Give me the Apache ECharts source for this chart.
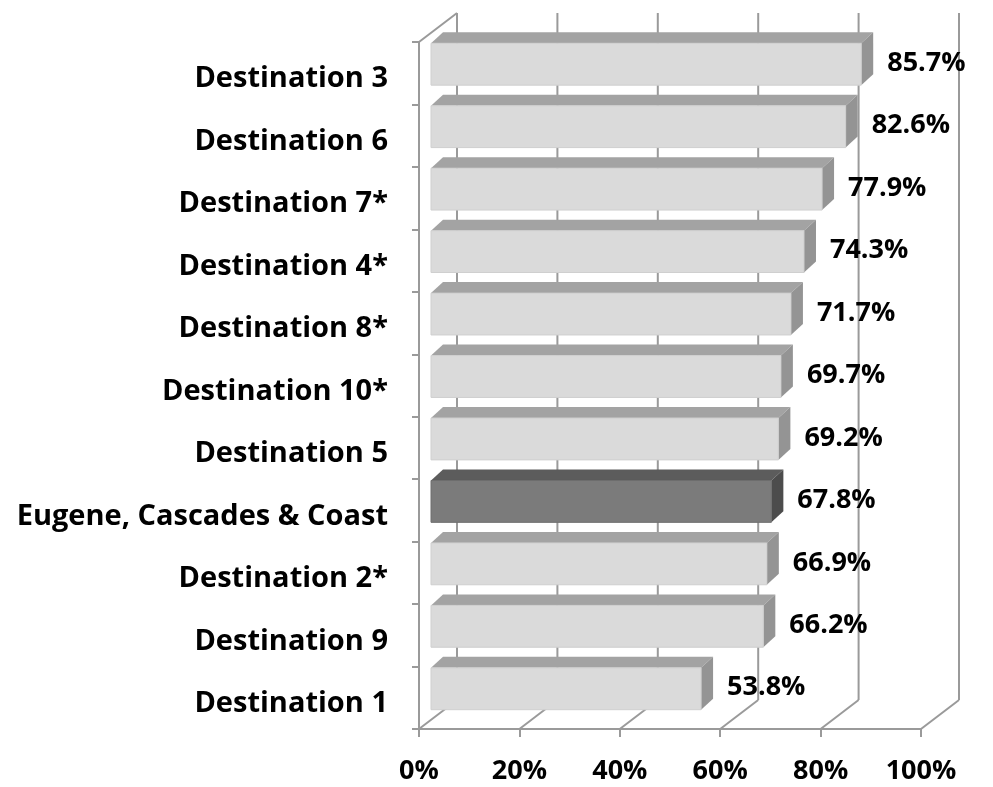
<!DOCTYPE html>
<html>
<head>
<meta charset="utf-8">
<script src="https://cdn.jsdelivr.net/npm/echarts@6/dist/echarts.min.js"></script>
<style>
  html, body { margin: 0; padding: 0; background: #fff; }
  #chart { width: 993px; height: 787px; }
</style>
</head>
<body>
<div id="chart"></div>
<script>
// categories top to bottom, values in percent
var categories = ['Destination 3', 'Destination 6', 'Destination 7*', 'Destination 4*', 'Destination 8*',
  'Destination 10*', 'Destination 5', 'Eugene, Cascades & Coast', 'Destination 2*', 'Destination 9', 'Destination 1'];
var values = [85.7, 82.6, 77.9, 74.3, 71.7, 69.7, 69.2, 67.8, 66.9, 66.2, 53.8];
var highlight = 'Eugene, Cascades & Coast';
var gridValues = [0, 20, 40, 60, 80, 100];

var FONT = '"Open Sans", sans-serif';
var LINE = '#9a9a9a';
// depth of the 3d box (wall) and of a bar, in pixels
var WALL = [38, -29];
var BAR_OFF = [12, -9];
var BAR_DEPTH = [12, -11];

var chart = echarts.init(document.getElementById('chart'));

function wallItem(params, api) {
    var cs = params.coordSys;
    var v = api.value(0);
    var x = api.coord([v, 0])[0];
    var top = cs.y, bottom = cs.y + cs.height;
    var style = { stroke: LINE, lineWidth: 2, fill: null };
    var kids = [
        { type: 'line', shape: { x1: x + WALL[0], y1: top + WALL[1], x2: x + WALL[0], y2: bottom + WALL[1] }, style: style },
        { type: 'line', shape: { x1: x, y1: bottom, x2: x + WALL[0], y2: bottom + WALL[1] }, style: style }
    ];
    if (v === 0) {
        kids.push({ type: 'line', shape: { x1: x, y1: top, x2: x + WALL[0], y2: top + WALL[1] }, style: style });
    }
    return { type: 'group', children: kids };
}

function barItem(params, api) {
    var idx = api.value(0);
    var val = api.value(1);
    var p0 = api.coord([0, idx]);
    var p1 = api.coord([val, idx]);
    var band = api.size([0, 1])[1];
    var h = band * 0.67;
    var x0 = p0[0] + BAR_OFF[0], x1 = p1[0] + BAR_OFF[0];
    var yc = p0[1] + BAR_OFF[1];
    var top = yc - h / 2, bottom = yc + h / 2;
    var dx = BAR_DEPTH[0], dy = BAR_DEPTH[1];
    var hi = categories[idx] === highlight;
    var cFront = hi ? '#7b7b7b' : '#dadada';
    var cTop = hi ? '#5c5c5c' : '#a3a3a3';
    var cSide = hi ? '#4c4c4c' : '#949494';
    return {
        type: 'group',
        children: [
            { type: 'polygon', shape: { points: [[x0, top], [x1, top], [x1 + dx, top + dy], [x0 + dx, top + dy]] },
              style: { fill: cTop } },
            { type: 'polygon', shape: { points: [[x1, top], [x1 + dx, top + dy], [x1 + dx, bottom + dy], [x1, bottom]] },
              style: { fill: cSide } },
            { type: 'rect', shape: { x: x0, y: top, width: x1 - x0, height: h },
              style: { fill: cFront, stroke: hi ? '#6e6e6e' : '#cfcfcf', lineWidth: 1 } },
            { type: 'text', x: x1 + dx + 14, y: yc - 1,
              style: { text: val.toFixed(1) + '%', font: 'bold 27px ' + FONT, fill: '#000',
                       verticalAlign: 'middle', align: 'left' } }
        ]
    };
}

chart.setOption({
    animation: false,
    grid: { left: 419, top: 42, width: 502, height: 687, containLabel: false },
    xAxis: {
        type: 'value', min: 0, max: 100, interval: 20,
        axisLine: { show: true, lineStyle: { color: LINE, width: 2 } },
        axisTick: { show: true, length: 8, lineStyle: { color: LINE, width: 2 } },
        splitLine: { show: false },
        axisLabel: { formatter: '{value}%', fontFamily: FONT, fontWeight: 'bold', fontSize: 27, color: '#000', margin: 29 }
    },
    yAxis: {
        type: 'category', data: categories, inverse: true,
        axisLine: { show: true, lineStyle: { color: LINE, width: 2 } },
        axisTick: { show: true, length: 7, lineStyle: { color: LINE, width: 2 } },
        axisLabel: {
            margin: 31,
            formatter: function (v) { return '{a|' + v + '}'; },
            rich: { a: { fontFamily: FONT, fontWeight: 'bold', fontSize: 29, color: '#000', padding: [12, 0, 0, 0] } }
        }
    },
    series: [
        { type: 'custom', renderItem: wallItem, data: gridValues.map(function (v) { return [v]; }), z: 1, silent: true,
          encode: { x: 0 } },
        { type: 'custom', renderItem: barItem, z: 2, silent: true,
          data: values.map(function (v, i) { return [i, v]; }),
          encode: { x: 1, y: 0 } }
    ]
});
</script>
</body>
</html>
